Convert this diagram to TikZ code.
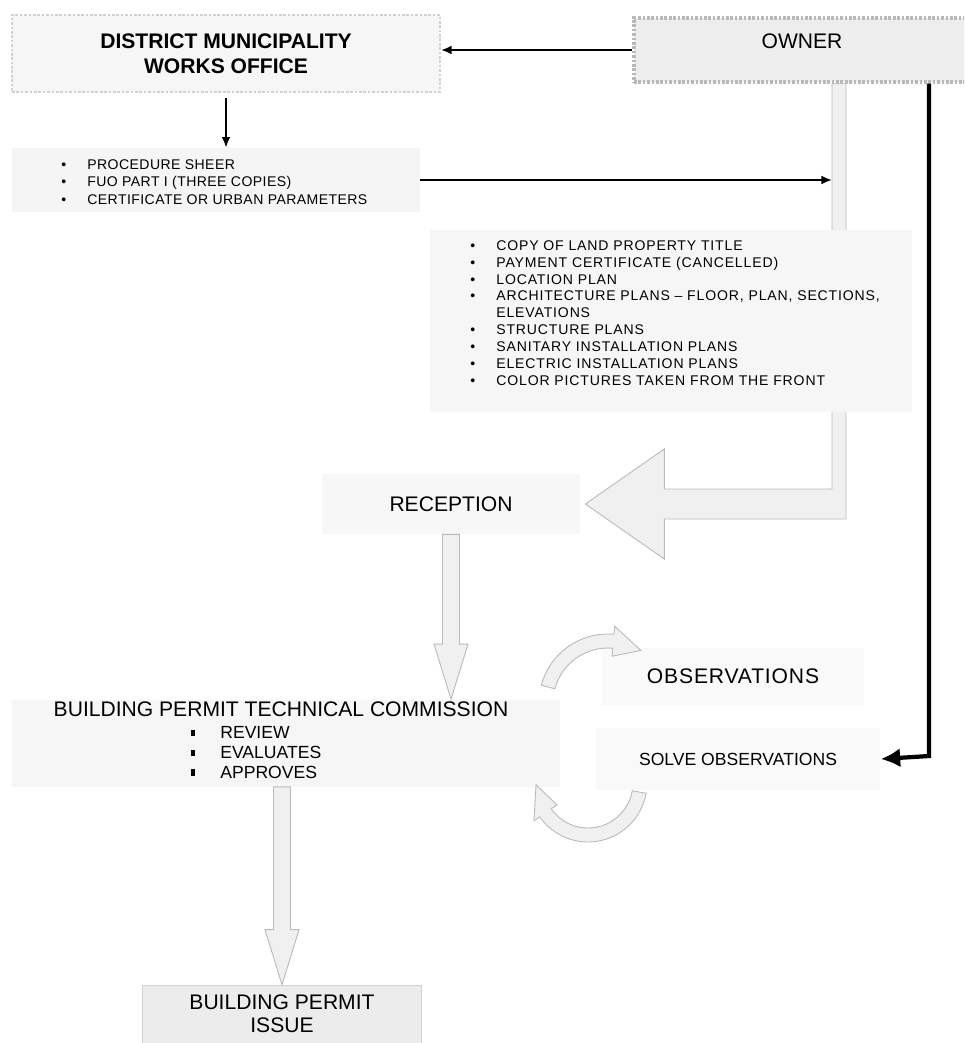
\documentclass[tikz,border=0pt]{standalone}
\usepackage{fontspec}
\setmainfont{Liberation Sans}
\usetikzlibrary{arrows.meta,calc}

\newcommand\blockdown[2]{%
	\draw[hollow] let \p1=(#1), \p2=(#2) in
	(\x1-0.17cm,\y1) -- (\x1+0.17cm,\y1) -- (\x1+0.17cm,\y2+1.1cm) -- (\x1+0.34cm,\y2+1.1cm)
	-- (\x1,\y2) -- (\x1-0.34cm,\y2+1.1cm) -- (\x1-0.17cm,\y2+1.1cm) -- cycle;}
\newcommand\itm[1]{\makebox[0.52cm][l]{\textbullet}#1}
\newcommand\sq{\makebox[0.58cm][l]{\rule[1.5pt]{2pt}{3.5pt}}}

\begin{document}
\begin{tikzpicture}[x=0.02cm,y=-0.02cm,
	box/.style={fill=#1,inner sep=0pt,align=center},
	hollow/.style={fill=gray!12,draw=gray!55,line width=0.5pt},
	link/.style={-{Latex[length=6pt,width=5pt]},line width=1.1pt},
	heavy/.style={-{Latex[length=11pt,width=11pt]},line width=2.4pt}]
	\clip (0,0) rectangle (964,1043);
	\fill[white] (0,0) rectangle (964,1043);
	\coordinate (barL) at (832,0);
	\coordinate (turn) at (929,756);

	\node[box=gray!7,draw=gray!35,line width=1.2pt,dash pattern=on 1.5pt off 1pt,
		minimum width=8.56cm,minimum height=1.54cm,font=\bfseries\fontsize{12}{14}\selectfont]
		(district) at (226,53.5) {DISTRICT MUNICIPALITY\\WORKS OFFICE};
	\node[box=gray!14,draw=gray!55,line width=2pt,dash pattern=on 1.5pt off 1pt,
		minimum width=6.72cm,minimum height=1.28cm,text depth=0.35cm,font=\fontsize{12}{14}\selectfont]
		(owner) at (802,50) {OWNER};
	\node[box=gray!8,minimum width=8.16cm,minimum height=1.28cm] (docsA) at (216,180) {};
	\node[anchor=west,align=left,inner sep=0pt,
		font=\fontsize{8}{9.8}\selectfont\addfontfeatures{LetterSpace=3}] (docsAlist) at (61,182)
		{\itm{PROCEDURE SHEER}\\\itm{FUO PART I (THREE COPIES)}\\\itm{CERTIFICATE OR URBAN PARAMETERS}};
	\node[box=gray!6,minimum width=5.16cm,minimum height=1.2cm,font=\fontsize{12}{14}\selectfont]
		(reception) at (451,504) {RECEPTION};

	\draw[hollow] let \p1=(barL |- owner.south), \p2=([xshift=0.1cm]reception.east) in
		(\x1,\y1) -- (\x1+0.28cm,\y1) -- (\x1+0.28cm,\y2-0.3cm) -- (\x2+1.58cm,\y2-0.3cm)
		-- (\x2+1.58cm,\y2-1.1cm) -- (\x2,\y2) -- (\x2+1.58cm,\y2+1.1cm) -- (\x2+1.58cm,\y2+0.3cm)
		-- (\x1,\y2+0.3cm) -- cycle;

	\node[box=gray!7,minimum width=9.64cm,minimum height=3.64cm] (docsB) at (671,321) {};
	\node[anchor=west,align=left,inner sep=0pt,
		font=\fontsize{8}{9.6}\selectfont\addfontfeatures{LetterSpace=6}] (docsBlist) at (470,313)
		{\itm{COPY OF LAND PROPERTY TITLE}\\\itm{PAYMENT CERTIFICATE (CANCELLED)}\\\itm{LOCATION PLAN}\\
		\itm{ARCHITECTURE PLANS – FLOOR, PLAN, SECTIONS,}\\\hspace*{0.52cm}ELEVATIONS\\
		\itm{STRUCTURE PLANS}\\\itm{SANITARY INSTALLATION PLANS}\\\itm{ELECTRIC INSTALLATION PLANS}\\
		\itm{COLOR PICTURES TAKEN FROM THE FRONT}};

	\node[box=gray!7,minimum width=10.96cm,minimum height=1.74cm] (commission) at (286,743) {};
	\node[inner sep=0pt,font=\fontsize{12}{14}\selectfont] (commtitle) at (281,709)
		{BUILDING PERMIT TECHNICAL COMMISSION};
	\node[anchor=north west,align=left,inner sep=0pt,font=\fontsize{10}{11.3}\selectfont] (commsteps) at (191,726)
		{\sq REVIEW\\\sq EVALUATES\\\sq APPROVES};
	\node[box=gray!5,minimum width=5.24cm,minimum height=1.14cm,
		font=\fontsize{12}{14}\selectfont\addfontfeatures{LetterSpace=4}]
		(observations) at (733,676) {OBSERVATIONS};
	\node[box=gray!5,minimum width=5.7cm,minimum height=1.24cm,font=\fontsize{10}{12}\selectfont]
		(solve) at (738,759) {SOLVE OBSERVATIONS};
	\node[box=gray!15,draw=gray!35,minimum width=5.58cm,minimum height=1.16cm,font=\fontsize{12}{13}\selectfont]
		(issue) at (282,1014) {BUILDING PERMIT\\ISSUE};

	\draw[link] (owner.west) -- (owner.west -| district.east);
	\draw[link] ([yshift=-0.1cm]district.south) -- (district.south |- docsA.north);
	\draw[link] (docsA.east) -- (docsA.east -| barL);
	\draw[heavy] (turn |- owner.south) -- (turn) -- (solve.east);

	\blockdown{reception.south}{reception.south |- commission.north}
	\blockdown{issue.north |- commission.south}{issue.north}

	\begin{scope}[shift={(608,703)},x=0.02cm,y=0.02cm]
		\draw[hollow] (165:69) arc[start angle=165,end angle=85,radius=69] -- (85:77) -- (58:62)
			-- (85:47) -- (85:55) arc[start angle=85,end angle=165,radius=55] -- cycle;
	\end{scope}
	\begin{scope}[shift={(588,783)},x=0.02cm,y=0.02cm]
		\draw[hollow] (-10:59) arc[start angle=-10,end angle=-145,radius=59] -- (-145:66) -- (-178:52)
			-- (-145:38) -- (-145:45) arc[start angle=-145,end angle=-10,radius=45] -- cycle;
	\end{scope}
\end{tikzpicture}
\end{document}
